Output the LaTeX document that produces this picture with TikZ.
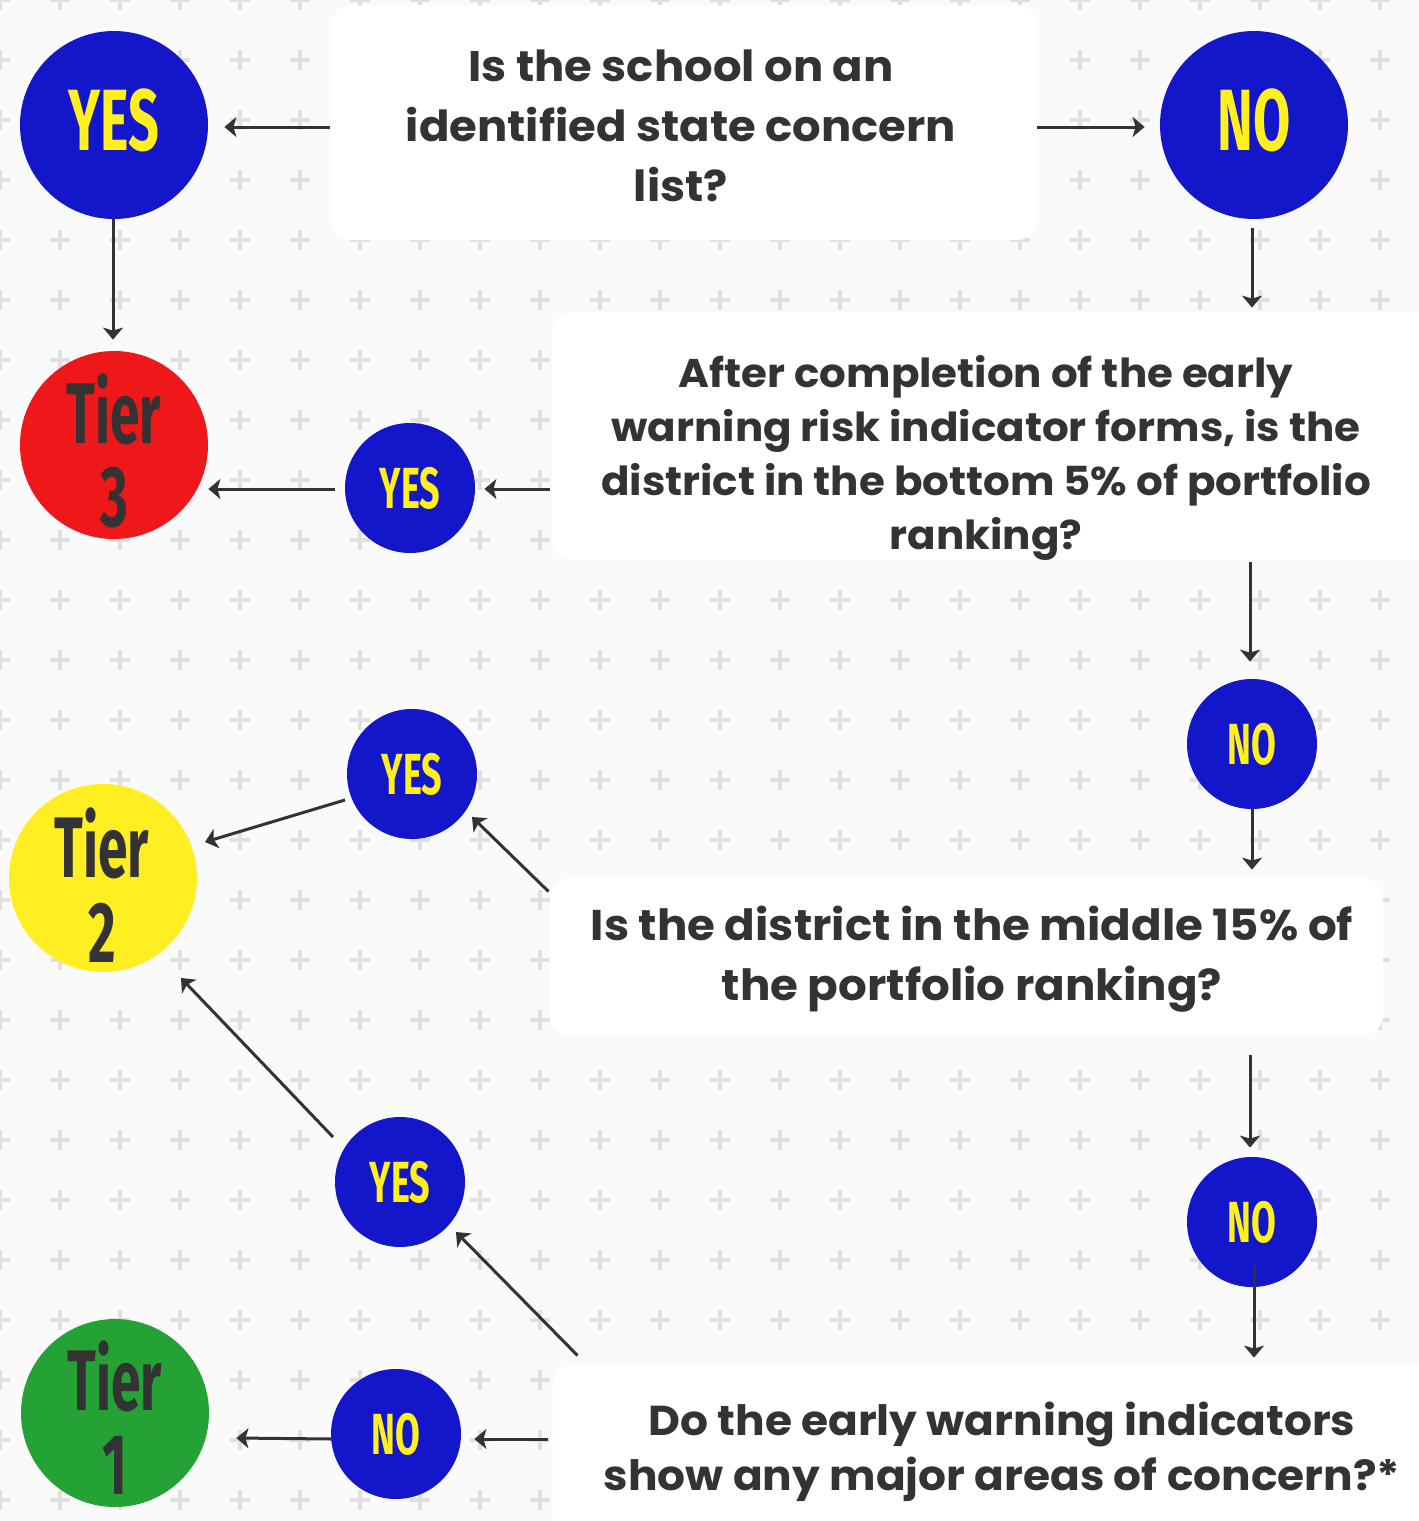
\documentclass[tikz,border=0pt]{standalone}
\usepackage{fontspec}
\setmainfont{Fira Sans}
\newfontfamily\condfont[FakeStretch=0.62]{Fira Sans}
\newfontfamily\qfont[FakeStretch=1.05]{Poppins}
\usetikzlibrary{arrows.meta,calc}
\definecolor{bgC}{HTML}{FAFAFA}
\definecolor{plusC}{HTML}{E0E0E0}
\definecolor{blueC}{HTML}{1317C9}
\definecolor{yelC}{HTML}{FFEF1F}
\definecolor{redC}{HTML}{EE1719}
\definecolor{greenC}{HTML}{25A235}
\definecolor{tyelC}{HTML}{FFEE22}
\definecolor{darkC}{HTML}{333333}
\tikzset{
  plusmark/.style={draw=plusC, line width=2pt},
  bigc/.style={circle, inner sep=0pt, minimum size=94pt, draw=none},
  bigans/.style={bigc, fill=blueC, text=yelC, text depth=5pt, font=\condfont\bfseries\fontsize{43.5}{43.5}\selectfont},
  smallans/.style={circle, inner sep=0pt, minimum size=65pt, draw=none, fill=blueC, text=yelC, font=\condfont\bfseries\fontsize{29}{29}\selectfont},
  tierlbl/.style={anchor=base, inner sep=0pt, text=darkC, font=\condfont\bfseries\fontsize{43}{43}\selectfont},
  qbox/.style={rectangle, rounded corners=10pt, fill=white, draw=none, inner sep=0pt},
  qtext/.style={anchor=base, inner sep=0pt, text=darkC, font=\qfont\bfseries},
  arr/.style={draw=darkC, line width=1.5pt, -{Stealth[length=6pt,width=10pt,inset=1.5pt]}}
}
\begin{document}
\begin{tikzpicture}[x=0.5pt,y=-0.5pt]
\path[use as bounding box] (0,0) rectangle (1419,1521);
\clip (0,0) rectangle (1419,1521);
\fill[bgC] (0,0) rectangle (1419,1521);
\foreach \i in {0,...,23} {
  \foreach \j in {0,...,25} {
    \draw[plusmark] (60*\i-10,60*\j) -- ++(20,0) (60*\i,60*\j-10) -- ++(0,20);
  }
}
% question boxes
\node[qbox, minimum width=353pt, minimum height=117.5pt] (q1) at (684,122.5) {};
\node[qbox, minimum width=449pt, minimum height=124pt] (q2) at (1001,436) {};
\node[qbox, minimum width=416.5pt, minimum height=78.5pt] (q3) at (966.5,956.5) {};
\node[qbox, minimum width=448.5pt, minimum height=97.5pt] (q4) at (1001.5,1462.5) {};
\node[qtext] (q1t) at (681,81) {\fontsize{21.4}{30}\selectfont\begin{tabular}[t]{@{}c@{}}Is the school on an\\ identified state concern\\ list?\end{tabular}};
\node[qtext] (q2t) at (986,387) {\fontsize{20}{27}\selectfont\begin{tabular}[t]{@{}c@{}}After completion of the early\\ warning risk indicator forms, is the\\ district in the bottom 5\% of portfolio\\ ranking?\end{tabular}};
\node[qtext] (q3t) at (972,940) {\fontsize{21.5}{30}\selectfont\begin{tabular}[t]{@{}c@{}}Is the district in the middle 15\% of\\ the portfolio ranking?\end{tabular}};
\node[qtext] (q4t) at (1002,1435) {\fontsize{20.9}{27.5}\selectfont\begin{tabular}[t]{@{}c@{}}Do the early warning indicators\\ show any major areas of concern?*\end{tabular}};
% answer circles
\node[bigans] (yes1) at (114,125) {YES};
\node[bigans] (no1) at (1254,125) {NO};
\node[smallans] (yes2) at (410,488) {YES};
\node[smallans] (no2) at (1252,744) {NO};
\node[smallans] (yes3) at (412,774) {YES};
\node[smallans] (no3) at (1252,1222) {NO};
\node[smallans] (yes4) at (400,1182) {YES};
\node[smallans] (no4) at (396,1434) {NO};
% tier circles
\node[bigc, fill=redC] (t3) at (114,445) {};
\node[bigc, fill=tyelC] (t2) at (103,878) {};
\node[bigc, fill=greenC] (t1) at (115,1413) {};
\node[tierlbl] (t3a) at (114,443) {Tier};
\node[tierlbl] (t3b) at (114,526) {3};
\node[tierlbl] (t2a) at (102,877) {Tier};
\node[tierlbl] (t2b) at (102,962) {2};
\node[tierlbl] (t1a) at (115,1410) {Tier};
\node[tierlbl] (t1b) at (115,1494) {1};
% connectors
\draw[arr] ($(q1.west)+(-1,4.5)$) -- ($(yes1.east)+(16,2)$);
\draw[arr] ($(q1.east)+(0,4.5)$) -- ($(no1.west)+(-15,2)$);
\draw[arr] ($(yes1.south)+(-1,0)$) -- ($(t3.north)+(-1,-11)$);
\draw[arr] ($(no1.south)+(-2,9)$) -- ($(no1.south |- q2.north)+(-2,-4)$);
\draw[arr] ($(q2.west)+(-2,53)$) -- ($(yes2.east)+(9,1)$);
\draw[arr] ($(yes2.west)+(-10,1)$) -- ($(t3.east)+(0,44)$);
\draw[arr] ($(q2.south -| no2)+(-2,2)$) -- ($(no2.north)+(-2,-17)$);
\draw[arr] (no2.south) -- ($(q3.north -| no2)+(0,-8)$);
\draw[arr] ($(q3.north west)+(-1,14)$) -- ($(yes3)+(60,43)$);
\draw[arr] ($(yes3)+(-67,26)$) -- ($(t2)+(102,-36)$);
\draw[arr] ($(q3.south -| no3)+(-2,20)$) -- ($(no3.north)+(-2,-9)$);
\draw[arr] ($(no3)+(2,43)$) -- ($(q4.north -| no3)+(2,-7)$);
\draw[arr] ($(q4.north west)+(25,-9)$) -- ($(yes4)+(56,50)$);
\draw[arr] ($(yes4)+(-67,-45)$) -- ($(t2)+(78,100)$);
\draw[arr] ($(q4.west)+(-5,-23.5)$) -- ($(no4.east)+(13,5)$);
\draw[arr] ($(no4.west)+(1,5)$) -- ($(t1.east)+(27,25)$);
\end{tikzpicture}
\end{document}
